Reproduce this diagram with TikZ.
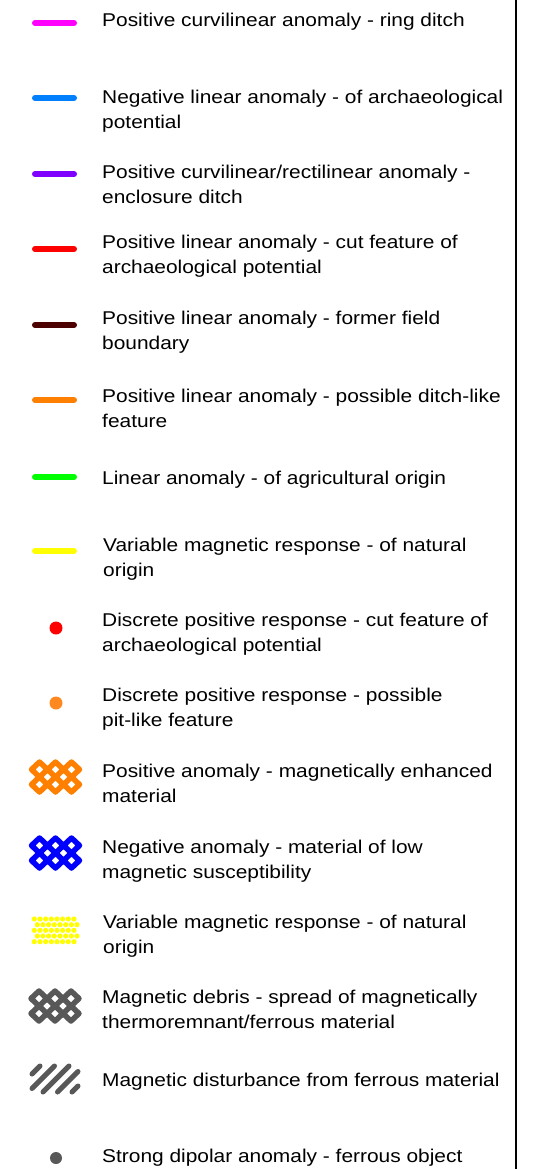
\documentclass[tikz,border=0pt]{standalone}
\usepackage{fontspec}
\setmainfont{Liberation Sans}[FakeStretch=1.13]

\definecolor{ringpink}{RGB}{255,0,255}
\definecolor{negblue}{RGB}{0,128,255}
\definecolor{enclpurple}{RGB}{128,0,255}
\definecolor{cutred}{RGB}{255,0,0}
\definecolor{fieldbrown}{RGB}{77,0,0}
\definecolor{ditchorange}{RGB}{255,128,0}
\definecolor{agrigreen}{RGB}{0,255,0}
\definecolor{natyellow}{RGB}{255,255,0}
\definecolor{pitorange}{RGB}{255,136,32}
\definecolor{lowblue}{RGB}{0,0,255}
\definecolor{debrisgrey}{RGB}{88,88,88}

\tikzset{
  legline/.style={line width=6pt, line cap=round},
  legtext/.style={anchor=base west, inner sep=0pt, align=left,
                  font=\fontsize{18.5}{25}\selectfont},
  legdot/.style={radius=6.5},
  hatchline/.style={line width=5pt, line cap=round, color=debrisgrey},
  lattice/.pic={
    \foreach \i in {-16,0,16} {
      \foreach \j in {-7.5,7.5} {
        \draw[line width=5.5pt, line join=round]
          (\i-8,\j) -- (\i,\j-7.5) -- (\i+8,\j) -- (\i,\j+7.5) -- cycle;
      }
    }
  }
}

\begin{document}
\begin{tikzpicture}[x=1pt, y=-1pt]
    \useasboundingbox (0,0) rectangle (535,1169);

    % frame edge on the right
    \draw[line width=1.5pt] (516,0) -- (516,1169);

    % line symbols
    \draw[legline, ringpink] (35,23) -- (74,23);
    \draw[legline, negblue] (35,98) -- (74,98);
    \draw[legline, enclpurple] (35,174) -- (74,174);
    \draw[legline, cutred] (35,249) -- (74,249);
    \draw[legline, fieldbrown] (35,325) -- (74,325);
    \draw[legline, ditchorange] (35,400) -- (74,400);
    \draw[legline, agrigreen] (35,477) -- (74,477);
    \draw[legline, natyellow] (35,551) -- (74,551);

    % discrete responses
    \fill[cutred, legdot] (56,628) circle;
    \fill[pitorange, legdot] (56,703) circle;

    % area symbols
    \pic[color=ditchorange] at (55.5,777) {lattice};
    \pic[color=lowblue] at (55.5,853) {lattice};

    \foreach \r in {0,...,4} {
      \foreach \c in {0,...,7} {
        \pgfmathsetmacro{\dx}{mod(\r,2)*3}
        \fill[natyellow] (34.3+5.67*\c+\dx, 919+5.67*\r) circle (2.6);
      }
    }

    \pic[color=debrisgrey] at (55,1006) {lattice};

    \draw[hatchline] (32,1074) -- (40,1066);
    \draw[hatchline] (32,1088.5) -- (54.5,1066);
    \draw[hatchline] (43,1092) -- (69,1066);
    \draw[hatchline] (57.5,1092) -- (78,1071.5);
    \draw[hatchline] (72,1092) -- (78,1086);

    \fill[debrisgrey, legdot] (56,1158) circle[radius=6];

    % texts (base of the last line)
    \node[legtext] (ring) at (102,27) {Positive curvilinear anomaly - ring ditch};
    \node[legtext] (neglin) at (102,129) {Negative linear anomaly - of archaeological\\potential};
    \node[legtext] (encl) at (102,204) {Positive curvilinear/rectilinear anomaly -\\enclosure ditch};
    \node[legtext] (cutlin) at (102,273) {Positive linear anomaly - cut feature of\\archaeological potential};
    \node[legtext] (field) at (102,349) {Positive linear anomaly - former field\\boundary};
    \node[legtext] (ditch) at (102,427) {Positive linear anomaly - possible ditch-like\\feature};
    \node[legtext] (agri) at (102,484) {Linear anomaly - of agricultural origin};
    \node[legtext] (natlin) at (103,576) {Variable magnetic response - of natural\\origin};
    \node[legtext] (cutdot) at (102,651) {Discrete positive response - cut feature of\\archaeological potential};
    \node[legtext] (pitdot) at (102,726) {Discrete positive response - possible\\pit-like feature};
    \node[legtext] (enh) at (102,802) {Positive anomaly - magnetically enhanced\\material};
    \node[legtext] (lowsus) at (102,878) {Negative anomaly - material of low\\magnetic susceptibility};
    \node[legtext] (natarea) at (103,953) {Variable magnetic response - of natural\\origin};
    \node[legtext] (debris) at (102,1028) {Magnetic debris - spread of magnetically\\thermoremnant/ferrous material};
    \node[legtext] (disturb) at (102,1086) {Magnetic disturbance from ferrous material};
    \node[legtext] (dipole) at (102,1162) {Strong dipolar anomaly - ferrous object};
\end{tikzpicture}
\end{document}
